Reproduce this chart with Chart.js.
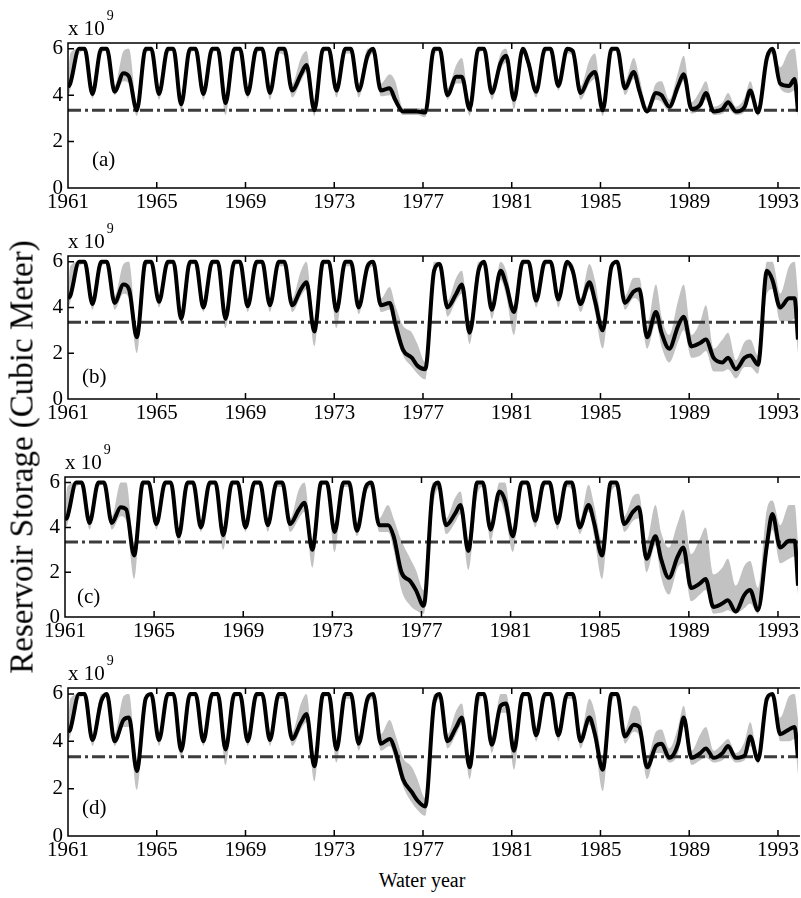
<!DOCTYPE html>
<html>
<head>
<meta charset="utf-8">
<script src="https://cdn.jsdelivr.net/npm/chart.js@4.4.1/dist/chart.umd.min.js"></script>
<style>
  body { margin: 0; background: #fff; font-family: "Liberation Serif", serif; }
  #wrap { position: relative; width: 801px; height: 898px; overflow: hidden; }
  canvas { position: absolute; }
  #ytitle {
    position: absolute; left: 22px; top: 457px; white-space: nowrap;
    font-size: 33px; line-height: 33px; color: #000;
    transform: translate(-50%, -50%) rotate(-90deg);
  }
  #xtitle {
    position: absolute; left: 422px; top: 880px; white-space: nowrap;
    font-size: 20px; line-height: 20px; color: #000;
    transform: translate(-50%, -50%);
  }
</style>
</head>
<body>
<div id="wrap">
  <canvas id="pa" width="801" height="215" style="left:0;top:3px"></canvas>
  <canvas id="pb" width="801" height="213" style="left:0;top:216px"></canvas>
  <canvas id="pc" width="804" height="210" style="left:-3px;top:437px"></canvas>
  <canvas id="pd" width="801" height="218" style="left:0;top:648px"></canvas>
  <div id="ytitle">Reservoir Storage (Cubic Meter)</div>
  <div id="xtitle">Water year</div>
</div>
<script>
// time of each sample (water year, decimal): trough, start of peak, end of peak
const years = [1961.0,
  1961.1,1961.5,1961.75, 1962.1,1962.5,1962.75, 1963.1,1963.5,1963.75, 1964.1,1964.5,1964.75,
  1965.1,1965.5,1965.75, 1966.1,1966.5,1966.75, 1967.1,1967.5,1967.75, 1968.1,1968.5,1968.75,
  1969.1,1969.5,1969.75, 1970.1,1970.5,1970.75, 1971.1,1971.5,1971.75, 1972.1,1972.5,1972.75,
  1973.1,1973.5,1973.75, 1974.1,1974.5,1974.75, 1975.1,1975.5,1975.75, 1976.1,1976.5,1976.75,
  1977.1,1977.5,1977.75, 1978.1,1978.5,1978.75, 1979.1,1979.5,1979.75, 1980.1,1980.5,1980.75,
  1981.1,1981.5,1981.75, 1982.1,1982.5,1982.75, 1983.1,1983.5,1983.75, 1984.1,1984.5,1984.75,
  1985.1,1985.5,1985.75, 1986.1,1986.5,1986.75, 1987.1,1987.5,1987.75, 1988.1,1988.5,1988.75,
  1989.1,1989.5,1989.75, 1990.1,1990.5,1990.75, 1991.1,1991.5,1991.75, 1992.1,1992.5,1992.75,
  1993.1,1993.5,1993.75,
  1993.9];

const xTicks = [1961, 1965, 1969, 1973, 1977, 1981, 1985, 1989, 1993];
const yTicks = [0, 2, 4, 6];
const deadStorage = 3.35;

// panel (a)
const storageA = [4.35,
  4.5,6.0,6.0, 4.05,6.0,6.0, 4.15,4.95,4.8, 3.35,6.0,6.0,
  4.05,6.0,6.0, 3.6,6.0,6.0, 4.05,6.0,6.0, 3.65,6.0,6.0,
  4.05,6.0,6.0, 4.1,6.0,6.0, 4.2,4.9,5.3, 3.35,6.0,6.0,
  4.2,6.0,6.0, 4.2,5.7,6.0, 4.2,4.3,3.8, 3.3,3.3,3.3,
  3.25,6.0,6.0, 4.0,4.8,4.8, 3.4,6.0,6.0, 4.1,5.4,5.7,
  3.8,6.0,5.4, 4.15,6.0,6.0, 4.4,6.0,5.9, 4.1,4.8,5.0,
  3.35,6.0,6.0, 4.3,5.0,4.2, 3.3,4.1,4.0, 3.5,4.4,4.9,
  3.4,3.6,4.1, 3.3,3.4,3.7, 3.3,3.5,4.2, 3.25,5.6,6.0,
  4.5,4.4,4.7,
  3.3];
const upperA = [4.6,
  5.8,6.0,6.0, 4.3,6.0,6.0, 4.4,5.9,6.0, 3.6,6.0,6.0,
  4.3,6.0,6.0, 3.9,6.0,6.0, 4.3,6.0,6.0, 3.9,6.0,6.0,
  4.3,6.0,6.0, 4.35,6.0,6.0, 4.5,5.6,5.9, 3.6,6.0,6.0,
  4.5,6.0,6.0, 4.5,6.0,6.0, 4.5,4.9,4.6, 3.45,3.45,3.45,
  3.4,6.0,6.0, 4.3,5.3,5.6, 3.7,6.0,6.0, 4.4,5.8,6.0,
  4.1,6.0,5.7, 4.4,6.0,6.0, 4.7,6.0,6.0, 4.4,5.5,5.8,
  3.6,6.0,6.0, 4.6,5.6,4.8, 3.5,4.5,4.6, 3.8,5.0,5.7,
  3.7,4.2,4.6, 3.5,3.7,4.1, 3.5,3.9,4.6, 3.5,5.9,6.0,
  5.2,5.9,6.0,
  5.0];
const lowerA = [3.9,
  4.2,5.8,5.9, 3.85,5.8,5.9, 4.0,4.6,4.5, 3.1,5.8,5.9,
  3.8,5.8,5.9, 3.3,5.8,5.9, 3.8,5.8,5.9, 3.15,5.8,5.9,
  3.85,5.8,5.9, 3.8,5.8,5.7, 3.9,4.6,5.0, 3.1,5.8,5.9,
  3.9,5.8,5.8, 3.9,5.4,5.8, 3.95,4.0,3.6, 3.15,3.15,3.15,
  3.05,5.7,5.9, 3.8,4.5,4.5, 3.1,5.8,5.9, 3.8,5.1,5.4,
  3.4,5.8,5.1, 3.9,5.8,5.9, 4.2,5.8,5.7, 3.8,4.5,4.7,
  3.1,5.8,5.9, 4.0,4.7,3.9, 3.2,3.8,3.7, 3.3,4.1,4.6,
  3.2,3.4,3.8, 3.15,3.2,3.4, 3.15,3.3,3.9, 3.1,5.3,5.8,
  4.3,4.1,4.2,
  3.1];

// panel (b)
const storageB = [4.4,
  4.5,6.0,6.0, 4.15,6.0,6.0, 4.2,5.0,4.8, 2.7,6.0,6.0,
  4.25,6.0,6.0, 3.5,6.0,6.0, 4.0,6.0,6.0, 3.5,6.0,6.0,
  4.05,6.0,6.0, 4.1,6.0,6.0, 4.1,4.8,5.1, 2.95,6.0,6.0,
  3.85,6.0,6.0, 4.0,5.8,6.0, 4.1,4.2,3.3, 2.15,1.8,1.45,
  1.3,5.6,5.9, 4.0,4.6,5.0, 2.9,5.6,6.0, 3.9,5.6,5.0,
  3.8,6.0,6.0, 4.3,6.0,6.0, 4.35,6.0,5.6, 4.15,5.1,4.3,
  3.0,5.8,6.0, 4.2,4.7,4.8, 2.7,3.8,2.9, 2.2,3.2,3.6,
  2.3,2.45,2.6, 1.8,1.6,1.8, 1.3,1.8,1.9, 1.5,5.6,5.2,
  4.0,4.4,4.4,
  2.6];
const upperB = [4.7,
  5.8,6.0,6.0, 4.4,6.0,6.0, 4.5,5.9,6.0, 3.2,6.0,6.0,
  4.5,6.0,6.0, 3.8,6.0,6.0, 4.3,6.0,6.0, 3.8,6.0,6.0,
  4.3,6.0,6.0, 4.4,6.0,6.0, 4.4,5.6,6.0, 3.3,6.0,6.0,
  4.2,6.0,6.0, 4.3,6.0,6.0, 4.4,4.9,4.1, 3.2,2.9,2.4,
  1.6,6.0,6.0, 4.3,5.3,5.6, 3.3,6.0,6.0, 4.2,6.0,5.6,
  4.1,6.0,6.0, 4.6,6.0,6.0, 4.6,6.0,5.9, 4.4,5.9,5.2,
  3.4,6.0,6.0, 4.5,5.3,5.3, 3.2,5.0,3.6, 2.8,4.3,5.0,
  2.8,3.4,4.1, 2.2,2.6,2.9, 1.7,2.5,2.6, 1.9,6.0,6.0,
  4.6,5.8,6.0,
  4.6];
const lowerB = [4.0,
  4.2,5.8,5.9, 3.9,5.8,5.9, 3.9,4.6,4.4, 2.0,5.8,5.9,
  4.0,5.8,5.9, 3.3,5.8,5.9, 3.8,5.8,5.9, 3.1,5.8,5.9,
  3.8,5.8,5.9, 3.8,5.8,5.8, 3.8,4.5,4.8, 2.3,5.8,5.9,
  3.1,5.8,5.8, 3.7,5.5,5.8, 3.8,3.9,2.9, 1.9,1.4,1.1,
  0.85,5.2,5.8, 3.6,4.3,4.6, 2.4,5.3,5.9, 3.5,5.2,4.5,
  2.8,5.8,5.9, 4.0,5.8,5.9, 4.0,5.8,5.3, 3.8,4.8,3.8,
  2.2,5.5,5.9, 3.9,4.4,4.2, 2.2,3.3,2.3, 1.6,2.5,3.0,
  1.8,1.9,2.1, 1.2,1.2,1.3, 0.9,1.4,1.4, 1.1,4.6,4.8,
  3.4,3.4,3.5,
  2.0];

// panel (c)
const storageC = [4.35,
  4.45,6.0,6.0, 4.2,6.0,6.0, 4.2,4.9,4.8, 2.75,6.0,6.0,
  4.15,6.0,6.0, 3.6,6.0,6.0, 4.0,6.0,6.0, 3.65,6.0,6.0,
  4.0,6.0,6.0, 4.1,6.0,6.0, 4.15,4.8,5.1, 3.0,6.0,6.0,
  3.8,6.0,6.0, 3.85,5.8,6.0, 4.1,4.1,3.6, 2.0,1.6,1.2,
  0.5,5.6,6.0, 4.1,4.6,5.0, 2.95,6.0,6.0, 3.9,5.6,5.2,
  3.6,6.0,6.0, 4.3,6.0,6.0, 4.2,6.0,6.0, 4.0,5.0,4.2,
  2.75,6.0,6.0, 4.15,4.7,4.9, 2.6,3.6,2.6, 1.75,2.7,3.1,
  1.3,1.5,1.7, 0.45,0.6,0.75, 0.25,1.0,1.2, 0.3,3.2,4.6,
  3.1,3.4,3.4,
  1.4];
const upperC = [4.6,
  5.8,6.0,6.0, 4.5,6.0,6.0, 4.5,6.0,6.0, 3.3,6.0,6.0,
  4.4,6.0,6.0, 3.9,6.0,6.0, 4.3,6.0,6.0, 3.9,6.0,6.0,
  4.3,6.0,6.0, 4.4,6.0,6.0, 4.4,5.7,6.0, 3.4,6.0,6.0,
  4.1,6.0,6.0, 4.2,6.0,6.0, 4.4,5.0,4.4, 3.4,2.6,2.1,
  1.2,6.0,6.0, 4.4,5.3,5.6, 3.3,6.0,6.0, 4.2,6.0,6.0,
  4.0,6.0,6.0, 4.6,6.0,6.0, 4.5,6.0,6.0, 4.3,5.9,5.0,
  3.4,6.0,6.0, 4.5,5.4,5.5, 3.4,5.0,3.8, 3.1,4.2,4.8,
  2.8,3.5,4.0, 1.9,2.2,2.6, 1.4,2.3,2.5, 1.3,4.8,5.2,
  4.1,5.0,5.0,
  3.3];
const lowerC = [4.0,
  4.1,5.8,5.9, 3.9,5.8,5.9, 3.9,4.5,4.3, 1.7,5.8,5.9,
  3.9,5.8,5.9, 3.2,5.8,5.9, 3.8,5.8,5.9, 3.0,5.8,5.9,
  3.8,5.8,5.9, 3.8,5.8,5.8, 3.8,4.4,4.7, 2.2,5.8,5.9,
  2.9,5.8,5.8, 3.6,5.5,5.8, 3.8,3.8,3.0, 1.2,0.5,0.3,
  0.15,4.8,5.7, 3.7,4.2,4.6, 2.1,5.4,5.8, 3.4,5.2,4.6,
  2.9,5.8,5.9, 4.0,5.8,5.9, 3.9,5.8,5.7, 3.7,4.7,3.6,
  1.7,5.5,5.8, 3.8,4.3,4.4, 2.0,3.2,1.8, 1.0,2.2,2.4,
  0.7,1.0,1.2, 0.15,0.2,0.3, 0.15,0.4,0.6, 0.15,2.6,3.9,
  2.4,2.6,2.7,
  1.0];

// panel (d)
const storageD = [4.4,
  4.5,6.0,6.0, 4.05,5.7,6.0, 4.0,4.9,5.0, 2.75,5.8,6.0,
  4.05,6.0,6.0, 3.6,6.0,6.0, 4.0,6.0,6.0, 3.65,6.0,6.0,
  4.0,6.0,6.0, 4.05,6.0,6.0, 4.1,4.8,5.15, 2.95,6.0,6.0,
  3.65,6.0,6.0, 3.9,5.8,6.0, 3.9,4.1,3.6, 2.4,1.85,1.5,
  1.25,5.6,6.0, 4.0,4.6,5.0, 2.9,6.0,6.0, 3.85,5.5,5.6,
  3.6,6.0,6.0, 4.25,6.0,6.0, 4.25,6.0,6.0, 4.0,5.0,4.3,
  2.8,6.0,6.0, 4.2,4.7,4.6, 2.9,3.8,3.9, 3.3,3.9,5.0,
  3.3,3.5,3.7, 3.3,3.5,3.8, 3.3,3.4,4.2, 3.2,5.8,6.0,
  4.3,4.5,4.6,
  3.3];
const upperD = [4.7,
  5.8,6.0,6.0, 4.3,6.0,6.0, 4.3,5.9,6.0, 3.2,6.0,6.0,
  4.3,6.0,6.0, 3.9,6.0,6.0, 4.3,6.0,6.0, 3.9,6.0,6.0,
  4.3,6.0,6.0, 4.3,6.0,6.0, 4.4,5.6,6.0, 3.3,6.0,6.0,
  4.0,6.0,6.0, 4.2,6.0,6.0, 4.3,4.9,4.3, 3.3,2.9,2.4,
  1.6,6.0,6.0, 4.3,5.3,5.6, 3.3,6.0,6.0, 4.2,6.0,6.0,
  4.0,6.0,6.0, 4.5,6.0,6.0, 4.5,6.0,6.0, 4.3,5.8,5.2,
  3.3,6.0,6.0, 4.5,5.5,5.3, 3.3,4.4,4.5, 3.7,4.6,5.5,
  3.6,4.3,4.6, 3.6,3.9,4.1, 3.5,4.0,4.8, 3.4,6.0,6.0,
  5.0,5.9,6.0,
  5.0];
const lowerD = [4.0,
  4.2,5.8,5.9, 3.8,5.5,5.9, 3.8,4.6,4.6, 1.95,5.6,5.9,
  3.8,5.8,5.9, 3.3,5.8,5.9, 3.8,5.8,5.9, 3.0,5.8,5.9,
  3.8,5.8,5.9, 3.8,5.8,5.8, 3.8,4.5,4.8, 2.3,5.8,5.9,
  3.1,5.8,5.8, 3.6,5.5,5.8, 3.6,3.8,3.2, 2.1,1.4,1.1,
  0.85,5.2,5.8, 3.7,4.3,4.7, 2.4,5.5,5.9, 3.5,5.2,5.2,
  2.8,5.8,5.9, 4.0,5.8,5.9, 4.0,5.8,5.8, 3.7,4.7,3.9,
  1.9,5.6,5.9, 3.9,4.4,4.2, 2.4,3.5,3.5, 3.1,3.5,4.6,
  3.0,3.2,3.3, 3.1,3.2,3.4, 3.1,3.2,3.8, 3.05,5.5,5.9,
  4.0,4.0,4.1,
  2.6];

Chart.defaults.font.family = '"Liberation Serif", "Times New Roman", serif';
Chart.defaults.color = '#000';

const tickFont = { family: '"Liberation Serif", serif', size: 21 };

// box (right side is cut off in the figure), inward ticks, exponent, panel letter
const framePlugin = {
  id: 'frame',
  afterDraw(chart, args, opts) {
    const { ctx, chartArea: a, scales } = chart;
    const x = scales.x, y = scales.y;
    ctx.save();
    ctx.strokeStyle = '#000';
    ctx.lineWidth = 1.5;
    ctx.beginPath();
    ctx.moveTo(a.right + 2, a.top); ctx.lineTo(a.left, a.top);
    ctx.lineTo(a.left, a.bottom); ctx.lineTo(a.right + 2, a.bottom);
    xTicks.forEach(v => {
      const px = x.getPixelForValue(v);
      ctx.moveTo(px, a.bottom); ctx.lineTo(px, a.bottom - 6);
      ctx.moveTo(px, a.top); ctx.lineTo(px, a.top + 6);
    });
    yTicks.forEach(v => {
      const py = y.getPixelForValue(v);
      ctx.moveTo(a.left, py); ctx.lineTo(a.left + 6, py);
    });
    ctx.stroke();

    ctx.fillStyle = '#000';
    ctx.textBaseline = 'alphabetic';
    ctx.font = '21px "Liberation Serif"';
    ctx.fillText('x 10', a.left, a.top - 8);
    const w = ctx.measureText('x 10').width;
    ctx.font = '14px "Liberation Serif"';
    ctx.fillText('9', a.left + w + 2, a.top - 23);

    ctx.font = '21px "Liberation Serif"';
    ctx.textBaseline = 'middle';
    ctx.fillText(opts.label, a.left + opts.dx, a.bottom - opts.dy);
    ctx.restore();
  }
};

function pts(vals) {
  return vals.map((v, i) => ({ x: years[i], y: v }));
}

function makePanel(id, storage, upper, lower, label, dx, dy) {
  new Chart(document.getElementById(id), {
    type: 'line',
    data: {
      datasets: [
        {
          data: pts(storage),
          borderColor: '#000',
          borderWidth: 4,
          pointRadius: 0,
          cubicInterpolationMode: 'monotone',
          fill: false,
        },
        {
          data: [{ x: 1961, y: deadStorage }, { x: 1994, y: deadStorage }],
          borderColor: '#3c3c3c',
          borderWidth: 3,
          borderDash: [13, 4, 3, 4],
          pointRadius: 0,
          fill: false,
        },
        {
          data: pts(upper),
          borderWidth: 0,
          borderColor: 'rgba(0,0,0,0)',
          backgroundColor: '#c2c2c2',
          pointRadius: 0,
          cubicInterpolationMode: 'monotone',
          fill: '+1',
        },
        {
          data: pts(lower),
          borderWidth: 0,
          borderColor: 'rgba(0,0,0,0)',
          pointRadius: 0,
          cubicInterpolationMode: 'monotone',
          fill: false,
        },
      ],
    },
    options: {
      responsive: false,
      animation: false,
      devicePixelRatio: 1,
      layout: { padding: { top: 40, right: 1, left: 0, bottom: 0 } },
      plugins: {
        legend: { display: false },
        tooltip: { enabled: false },
        frame: { label: label, dx: dx, dy: dy },
      },
      scales: {
        x: {
          type: 'linear',
          min: 1961,
          max: 1993.9,
          afterBuildTicks: (s) => { s.ticks = xTicks.map(v => ({ value: v })); },
          afterFit: (s) => { s.height = 30; },
          grid: { display: false, drawTicks: false },
          border: { display: false },
          ticks: {
            font: tickFont,
            color: '#000',
            padding: 2,
            maxRotation: 0,
            autoSkip: false,
            callback: (v) => String(v),
          },
        },
        y: {
          min: 0,
          max: 6.25,
          afterBuildTicks: (s) => { s.ticks = yTicks.map(v => ({ value: v })); },
          afterFit: (s) => { s.width = 68; },
          grid: { display: false, drawTicks: false },
          border: { display: false },
          ticks: {
            font: tickFont,
            color: '#000',
            padding: 5,
            callback: (v) => String(v),
          },
        },
      },
    },
    plugins: [framePlugin],
  });
}

makePanel('pa', storageA, upperA, lowerA, '(a)', 24, 28);
makePanel('pb', storageB, upperB, lowerB, '(b)', 14, 22);
makePanel('pc', storageC, upperC, lowerC, '(c)', 12, 20);
makePanel('pd', storageD, upperD, lowerD, '(d)', 14, 28);
</script>
</body>
</html>
